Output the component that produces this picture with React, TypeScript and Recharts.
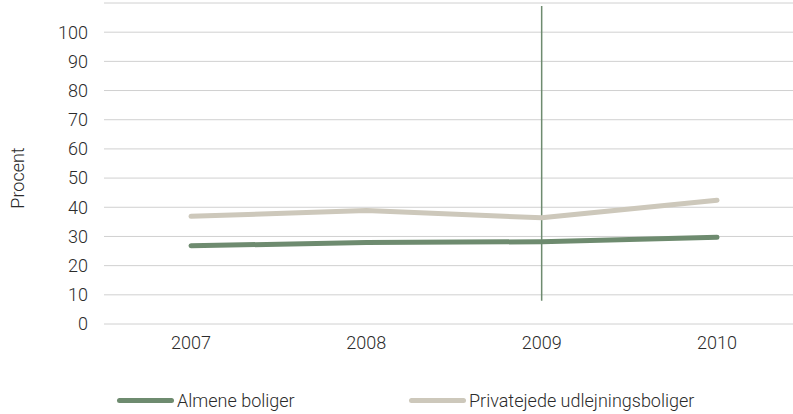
import React from "react";
import {
  CartesianGrid,
  Legend,
  Line,
  LineChart,
  ReferenceLine,
  XAxis,
  YAxis,
} from "recharts";

const years = ["2007", "2008", "2009", "2010"];
const almene = [26.8, 27.9, 28.2, 29.7];
const private_ = [36.9, 38.9, 36.4, 42.4];
const yTicks = [0, 10, 20, 30, 40, 50, 60, 70, 80, 90, 100];

const data = years.map((year, i) => ({
  year,
  almene: almene[i],
  privat: private_[i],
}));

const green = "#6e8b6f";
const beige = "#cdc8bb";
const font = "Roboto, 'DejaVu Sans', sans-serif";
const tick = { fill: "#2b2b2b", fontSize: 18, fontFamily: font, fontWeight: 300 };

const legendItems = [
  { name: "Almene boliger", color: green },
  { name: "Privatejede udlejningsboliger", color: beige },
];

function LegendContent() {
  return (
    <div style={{ display: "flex", paddingLeft: 117, fontFamily: font, fontWeight: 300, fontSize: 18, color: "#2b2b2b" }}>
      {legendItems.map((it) => (
        <div key={it.name} style={{ display: "flex", alignItems: "center", width: 292 }}>
          <span style={{ display: "inline-block", width: 57, height: 5, borderRadius: 3, background: it.color, marginRight: 3 }} />
          <span>{it.name}</span>
        </div>
      ))}
    </div>
  );
}

export default function App() {
  return (
    <div style={{ position: "fixed", left: 0, top: 0, width: 793, height: 414, overflow: "hidden", background: "#fff" }}>
      <LineChart width={810} height={414} data={data} margin={{ top: 3, right: 6, left: 0, bottom: 29 }}>
        <CartesianGrid vertical={false} stroke="#d0d0d0" strokeWidth={1} />
        <XAxis
          dataKey="year"
          axisLine={false}
          tickLine={false}
          tick={tick}
          tickSize={0}
          tickMargin={12}
          height={40}
          padding={{ left: 87, right: 87 }}
        />
        <YAxis
          domain={[0, 110]}
          ticks={yTicks}
          axisLine={false}
          tickLine={false}
          tick={tick}
          tickSize={8}
          tickMargin={8}
          width={104}
          label={{
            value: "Procent",
            content: () => (
              <text x={17} y={178} transform="rotate(-90 17 178)" textAnchor="middle" dominantBaseline="central" fill="#2b2b2b" fontSize={18} fontFamily={font} fontWeight={300}>
                Procent
              </text>
            ),
          }}
        />
        <ReferenceLine
          segment={[{ x: "2009", y: 8 }, { x: "2009", y: 109 }]}
          stroke={green}
          strokeWidth={1.5}
          ifOverflow="visible"
        />
        <Line type="linear" dataKey="almene" name="Almene boliger" stroke={green} strokeWidth={5} strokeLinecap="round" strokeLinejoin="round" dot={false} isAnimationActive={false} />
        <Line type="linear" dataKey="privat" name="Privatejede udlejningsboliger" stroke={beige} strokeWidth={5} strokeLinecap="round" strokeLinejoin="round" dot={false} isAnimationActive={false} />
        <Legend verticalAlign="bottom" content={<LegendContent />} wrapperStyle={{ left: 0, bottom: 3 }} />
      </LineChart>
    </div>
  );
}
